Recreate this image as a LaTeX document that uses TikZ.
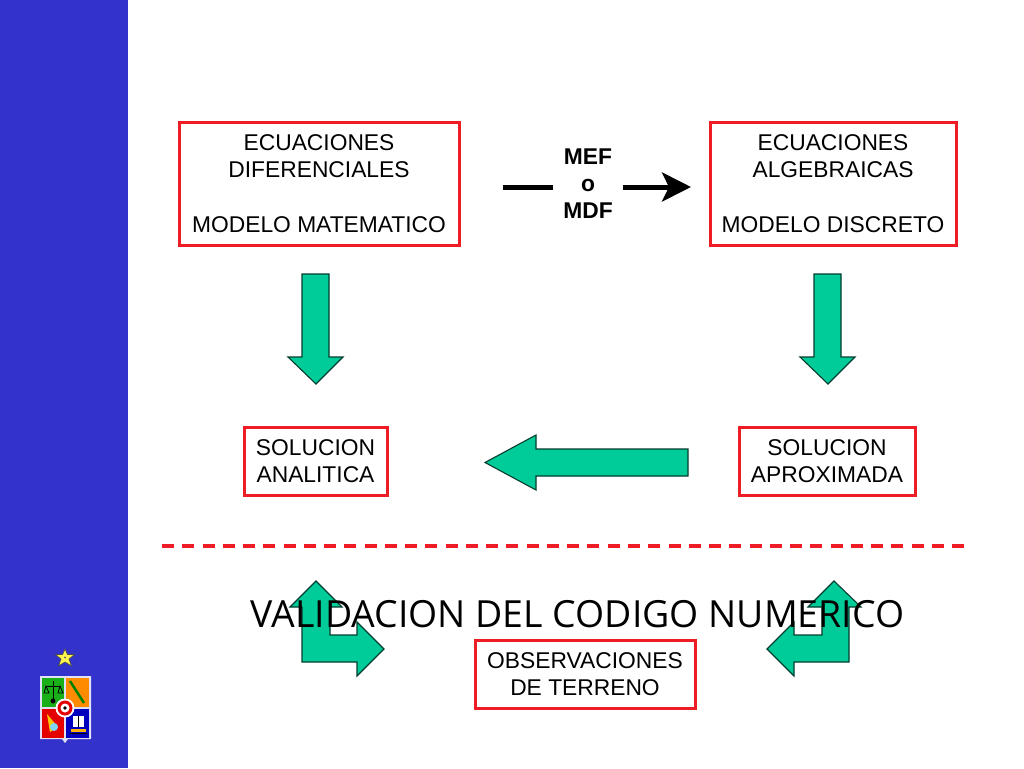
\documentclass[tikz,border=0pt]{standalone}
\usepackage{fontspec}
\setmainfont{Liberation Sans}
\newfontfamily\valfont{Open Sans}
\usetikzlibrary{arrows.meta}
\definecolor{panel}{HTML}{3333CC}
\definecolor{teal}{HTML}{00CC99}
\definecolor{redbox}{HTML}{EE1C25}
\tikzset{
  redbox/.style={draw=redbox,line width=3pt,fill=white,minimum width=#1,inner sep=0pt,outer sep=0pt,align=center,
    font=\fontsize{22.8}{27.4}\selectfont},
  greenarrow/.style={draw=black!70!teal,line width=1.1pt,fill=teal,line join=miter},
  thickblack/.style={draw=black,line width=5pt},
}
\begin{document}
\begin{tikzpicture}[x=1pt,y=-1pt]
\useasboundingbox (0,0) rectangle (1024,768);
\fill[white] (0,0) rectangle (1024,768);
\fill[panel] (0,0) rectangle (128,768);
% star
\fill[yellow!70!white,draw=black!70,line width=.7pt] (65,649)--(67.5,654.5)--(74.5,654.5)--(69,659)--(71.5,666)--(65,662)--(58.5,666)--(61,659)--(55.5,654.5)--(62.5,654.5)--cycle;
\fill[black!60] (65,657.5) circle (1.2);
% shield
\fill[white!85!panel] (40,676)--(91,676)--(91,739)--(68,739)--(65,743)--(62,739)--(40,739)--cycle;
\fill[green!65!black!90!white] (42,678) rectangle (64,707);
\fill[orange!90!yellow] (66,678) rectangle (89,707);
\fill[red!90!black] (42,709) rectangle (64,738);
\fill[blue!75!black] (66,709) rectangle (89,738);
\draw[black,line width=1pt] (53,681)--(53,700) (46,686)--(60,686);
\draw[black,line width=.8pt] (46,686)--(44,693)--(49,693)--cycle (60,686)--(58,693)--(63,693)--cycle;
\fill[black] (53,701) circle (2.5);
\draw[black!50!green,line width=2.5pt] (70,681)--(84,703);
\fill[yellow!80!red] (47,714)--(58,727)--(50,732)--cycle;
\fill[cyan!50!white] (54,727) circle (4);
\fill[white] (73,716) rectangle (84,727);
\draw[black,line width=1pt] (70,733)--(87,733) (78.5,716)--(78.5,727);
\fill[yellow!70!red] (71,729) rectangle (86,732);
\fill[white] (65,708) circle (9.5);
\fill[red!90!black] (65,708) circle (7.5);
\fill[white] (65,708) circle (4.5);
\fill[black] (65,708) circle (1.8);
% boxes
\node[redbox=280pt,minimum height=123pt,anchor=north west] (ed) at (179,122) {};
\node[font=\fontsize{22.8}{27.4}\selectfont,align=center] (edt) at (319,183.5) {ECUACIONES\\DIFERENCIALES\\[27.4pt]MODELO MATEMATICO};
\node[redbox=246pt,minimum height=123pt,anchor=north west] (ea) at (710,122) {};
\node[font=\fontsize{22.8}{27.4}\selectfont,align=center] (eat) at (833,183.5) {ECUACIONES\\ALGEBRAICAS\\[27.4pt]MODELO DISCRETO};
\node[redbox=143pt,minimum height=68pt] (sa) at (315.5,461) {SOLUCION\\ANALITICA};
\node[redbox=176pt,minimum height=68pt] (sp) at (827,461) {SOLUCION\\APROXIMADA};
\node[redbox=220pt,minimum height=68pt] (ob) at (585,674) {OBSERVACIONES\\DE TERRENO};
% MEF
\node[font=\fontsize{22.8}{27}\selectfont\bfseries,align=center] (mef) at (588,184) {MEF\\o\\MDF};
\coordinate (m1) at (503,187); \coordinate (m2) at (553,187);
\coordinate (m3) at (623,187); \coordinate (m4) at (691,187);
\draw[thickblack] (m1)--(m2);
\draw[thickblack,-{Stealth[length=29pt,width=29pt,inset=7pt]}] (m3)--(m4);
% block arrows
\path[greenarrow] (302,274)--(329,274)--(329,357)--(343,357)--(316,384)--(288,357)--(302,357)--cycle;
\path[greenarrow] (814,274)--(841,274)--(841,357)--(855,357)--(828,384)--(800,357)--(814,357)--cycle;
\path[greenarrow] (688,449)--(688,476)--(536,476)--(536,490)--(485,462.5)--(536,435)--(536,449)--cycle;
\path[greenarrow] (316,581)--(342,607)--(330,607)--(330,635)--(357,635)--(357,622)--(384,649)--(357,676)--(357,662)--(302,662)--(302,607)--(290,607)--cycle;
\path[greenarrow] (834,581)--(861,607)--(849,607)--(849,662)--(794,662)--(794,676)--(767,649)--(794,622)--(794,635)--(822,635)--(822,607)--(808,607)--cycle;
% dashed
\coordinate (d1) at (162,546); \coordinate (d2) at (964,546);
\draw[draw=redbox,line width=3.4pt,dash pattern=on 12pt off 8.26pt] (d1)--(d2);
\node[font=\fontsize{37.4}{42}\selectfont\valfont,text=black,inner sep=0pt] (val) at (577.5,614) {VALIDACION DEL CODIGO NUMERICO};
\end{tikzpicture}
\end{document}
